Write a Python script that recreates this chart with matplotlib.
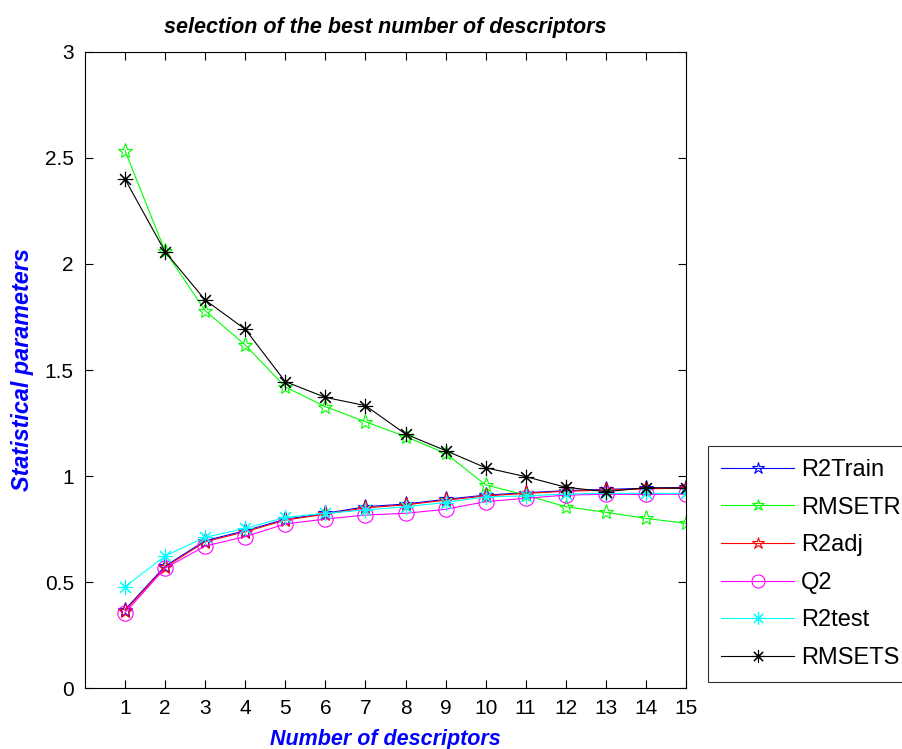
import numpy as np
import matplotlib
matplotlib.use("Agg")
import matplotlib.pyplot as plt

# values
n_desc = list(range(1, 16))
r2_train = [0.37, 0.575, 0.695, 0.742, 0.796, 0.824, 0.855, 0.868, 0.89,
            0.91, 0.921, 0.931, 0.937, 0.942, 0.947]
rmsetr = [2.534, 2.06, 1.78, 1.618, 1.42, 1.327, 1.256, 1.186, 1.107,
          0.958, 0.91, 0.855, 0.829, 0.80, 0.777]
r2_adj = [0.365, 0.57, 0.69, 0.737, 0.792, 0.82, 0.85, 0.864, 0.886,
          0.906, 0.918, 0.928, 0.934, 0.939, 0.944]
q2 = [0.355, 0.565, 0.67, 0.714, 0.774, 0.797, 0.816, 0.824, 0.843,
      0.879, 0.895, 0.91, 0.914, 0.913, 0.915]
r2_test = [0.478, 0.623, 0.711, 0.753, 0.805, 0.824, 0.84, 0.855, 0.875,
           0.902, 0.906, 0.915, 0.918, 0.918, 0.918]
rmsets = [2.40, 2.058, 1.83, 1.692, 1.445, 1.371, 1.332, 1.198, 1.12,
          1.039, 0.997, 0.947, 0.926, 0.945, 0.942]

y_ticks = [0, 0.5, 1, 1.5, 2, 2.5, 3]
y_labels = ["0", "0.5", "1", "1.5", "2", "2.5", "3"]

plt.rcParams["font.family"] = ["Liberation Sans", "DejaVu Sans"]

fig = plt.figure(figsize=(9.03, 7.49), dpi=100)
ax = fig.add_axes([0.0941, 0.0814, 0.6656, 0.8492])

asterisk = (8, 2, 0)
series = [
    (r2_train, "#0000ff", "*", "R2Train"),
    (rmsetr, "#00ff00", "*", "RMSETR"),
    (r2_adj, "#ff0000", "*", "R2adj"),
    (q2, "#ff00ff", "o", "Q2"),
    (r2_test, "#00ffff", asterisk, "R2test"),
    (rmsets, "#000000", asterisk, "RMSETS"),
]
for vals, col, mk, lab in series:
    ax.plot(n_desc, vals, color=col, lw=0.8, marker=mk, ms=11,
            mfc="none", mec=col, mew=0.8, label=lab)

ax.set_xlim(0, 15)
ax.set_ylim(0, 3)
ax.set_xticks(n_desc)
ax.set_yticks(y_ticks)
ax.set_yticklabels(y_labels)
ax.tick_params(direction="in", top=True, right=True, labelsize=15,
               length=6, width=0.8, pad=8)
for s in ax.spines.values():
    s.set_linewidth(0.8)

ax.set_title("selection of the best number of descriptors", fontsize=15.5,
             fontweight="bold", fontstyle="italic", pad=14)
ax.set_xlabel("Number of descriptors", fontsize=15.5, fontweight="bold",
              fontstyle="italic", color="#0000ff", labelpad=8)
ax.set_ylabel("Statistical parameters", fontsize=16.8, fontweight="bold",
              fontstyle="italic", color="#0000ff", labelpad=8)

# legend sits outside the axes and runs off the right edge, as in the source
leg = fig.legend(loc="lower left", bbox_to_anchor=(0.784, 0.0895),
                 fontsize=17, frameon=True, fancybox=False, edgecolor="k",
                 handlelength=3.1, handletextpad=0.28, labelspacing=0.66,
                 borderpad=0.55, borderaxespad=0, markerscale=0.85)
leg.get_frame().set_linewidth(0.8)

fig.savefig("out.png", dpi=100)
